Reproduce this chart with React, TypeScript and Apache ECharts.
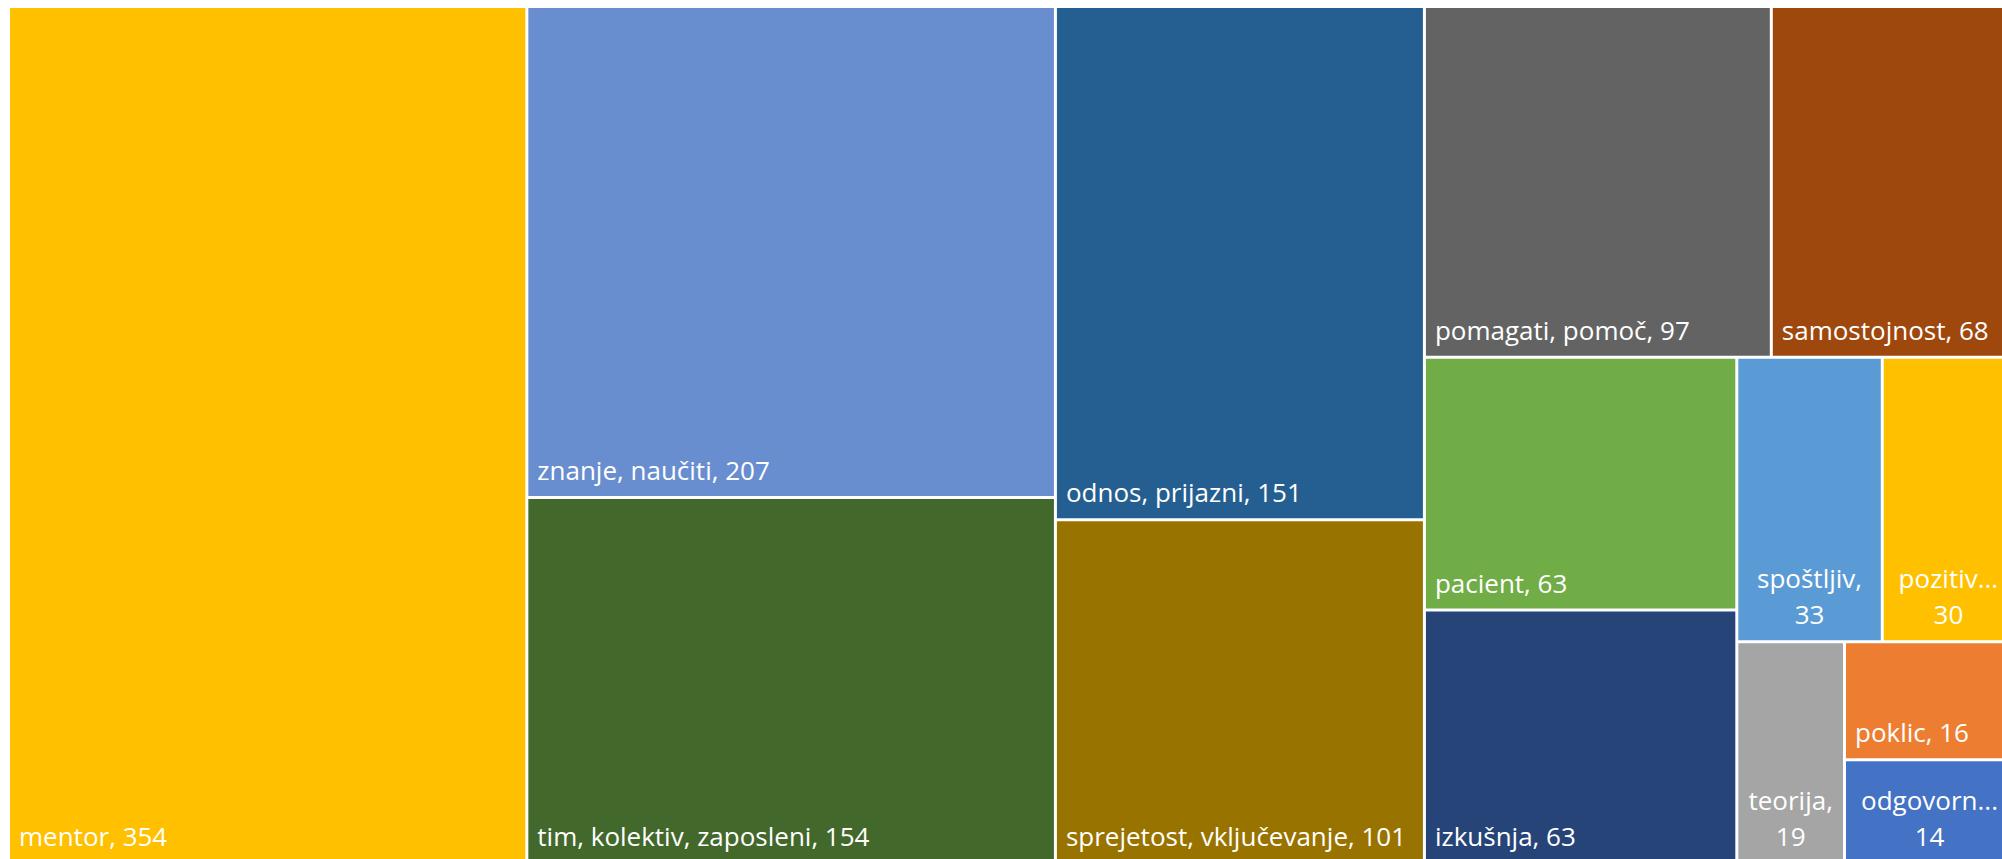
import React, { useEffect, useRef } from "react";
import * as echarts from "echarts";

// Categories (as shown in the chart), values and colours
const categories = [
  "mentor",
  "znanje, naučiti",
  "tim, kolektiv, zaposleni",
  "odnos, prijazni",
  "sprejetost, vključevanje",
  "pomagati, pomoč",
  "samostojnost",
  "pacient",
  "izkušnja",
  "spoštljiv",
  "pozitiv...",
  "teorija",
  "poklic",
  "odgovorn...",
];
const values = [354, 207, 154, 151, 101, 97, 68, 63, 63, 33, 30, 19, 16, 14];
const colors = [
  "#FFC000",
  "#698ED0",
  "#43682B",
  "#255E91",
  "#997300",
  "#636363",
  "#9E480E",
  "#70AD47",
  "#264478",
  "#5B9BD5",
  "#FFC000",
  "#A5A5A5",
  "#ED7D31",
  "#4472C4",
];
// labels shown on two centred lines
const wrapped = [false, false, false, false, false, false, false, false, false, true, true, true, false, true];
// the last two tiles share one block (matches the original arrangement)
const pairedTail = 2;

function leaf(i: number) {
  const name = categories[i];
  const v = values[i];
  if (wrapped[i]) {
    const first = name.endsWith("...") ? name : name + ",";
    return {
      name,
      value: v,
      itemStyle: { color: colors[i] },
      label: {
        position: "insideBottom",
        align: "center",
        padding: [0, 2, 8, 2],
        formatter: first + "\n" + v,
      },
    };
  }
  return {
    name,
    value: v,
    itemStyle: { color: colors[i] },
    label: { formatter: name + ", " + v },
  };
}

function buildData() {
  const n = categories.length;
  const out: any[] = [];
  for (let i = 0; i < n - pairedTail; i++) out.push(leaf(i));
  const kids: any[] = [];
  for (let i = n - pairedTail; i < n; i++) kids.push(leaf(i));
  out.push({ name: "", children: kids });
  return out;
}

export default function App() {
  const ref = useRef<HTMLDivElement>(null);
  useEffect(() => {
    if (!ref.current) return;
    const chart = echarts.init(ref.current, undefined, { renderer: "svg" });
    chart.setOption({
      animation: false,
      backgroundColor: "#ffffff",
      textStyle: { fontFamily: "Open Sans" },
      series: [
        {
          type: "treemap",
          left: 10,
          top: 8,
          width: 2003,
          height: 853.5,
          roam: false,
          nodeClick: false,
          sort: false,
          squareRatio: 1.16,
          breadcrumb: { show: false },
          upperLabel: { show: false },
          label: {
            show: true,
            position: "insideBottomLeft",
            distance: 0,
            padding: [0, 9, 8, 9],
            color: "#ffffff",
            fontFamily: "Open Sans",
            fontSize: 26,
            lineHeight: 36,
          },
          itemStyle: { borderWidth: 0, borderColor: "#ffffff", gapWidth: 3 },
          emphasis: { disabled: true },
          levels: [
            { itemStyle: { borderWidth: 0, gapWidth: 3, borderColor: "#ffffff" } },
            { itemStyle: { borderWidth: 0, gapWidth: 3, borderColor: "#ffffff" } },
            { itemStyle: { borderWidth: 0, gapWidth: 3, borderColor: "#ffffff" } },
          ],
          data: buildData(),
        },
      ],
    });
    return () => chart.dispose();
  }, []);
  return (
    <div
      ref={ref}
      style={{ position: "fixed", left: 0, top: 0, width: 2002, height: 859, background: "#fff" }}
    />
  );
}
